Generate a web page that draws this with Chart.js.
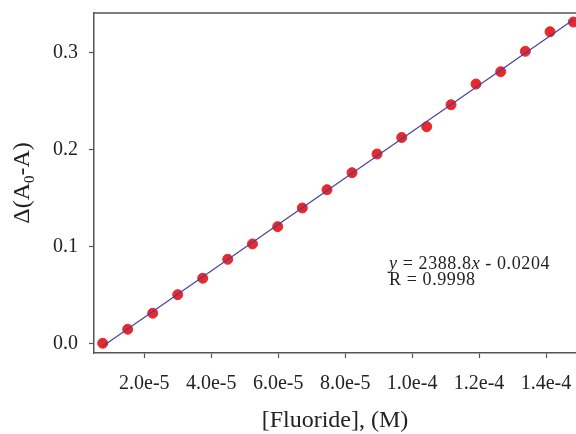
<!DOCTYPE html>
<html>
  <head>
    <meta charset="utf-8">
    <style>
      html, body { margin: 0; padding: 0; background: #fff; }
      canvas { display: block; }
    </style>
    <script src="https://cdn.jsdelivr.net/npm/chart.js@4.4.0/dist/chart.umd.min.js"></script>
  </head>
  <body>
    <canvas id="myChart" width="576" height="434"></canvas>
    <script type="text/javascript">
      // data
      var concentrations = [0.757e-5, 1.504e-5, 2.251e-5, 2.998e-5, 3.745e-5, 4.491e-5, 5.232e-5,
        5.985e-5, 6.72e-5, 7.458e-5, 8.205e-5, 8.952e-5, 9.69e-5, 1.0436e-4, 1.1162e-4,
        1.1909e-4, 1.2647e-4, 1.3382e-4, 1.412e-4, 1.4816e-4];
      var deltaAbs = [0.0007, 0.0151, 0.0316, 0.0507, 0.0676, 0.0871, 0.1029, 0.1207, 0.1399,
        0.1587, 0.1762, 0.1954, 0.2124, 0.2235, 0.2461, 0.2674, 0.2801, 0.3011, 0.3212, 0.3312];
      var xTickValues = [2e-5, 4e-5, 6e-5, 8e-5, 1e-4, 1.2e-4, 1.4e-4];
      var yTickValues = [0, 0.1, 0.2, 0.3];
      var fitSlope = 2388.8;
      var fitIntercept = -0.0204;
      var rValue = '0.9998';
      var xTitle = '[Fluoride], (M)';

      var serif = "'Liberation Serif', 'Times New Roman', serif";

      var points = concentrations.map(function (x, i) { return { x: x, y: deltaAbs[i] }; });
      var xFirst = concentrations[0], xLast = concentrations[concentrations.length - 1];
      var fitLine = [
        { x: xFirst, y: fitSlope * xFirst + fitIntercept },
        { x: xLast, y: fitSlope * xLast + fitIntercept }
      ];

      // frame top line, y title with subscript, fit equation
      var extras = {
        id: 'extras',
        afterDraw: function (chart) {
          var ctx = chart.ctx, a = chart.chartArea;
          ctx.save();
          ctx.strokeStyle = '#555';
          ctx.lineWidth = 1.5;
          ctx.beginPath();
          ctx.moveTo(a.left, a.top);
          ctx.lineTo(a.right, a.top);
          ctx.stroke();

          // y axis title: Δ(A0-A), 0 as subscript
          ctx.fillStyle = '#222';
          ctx.textBaseline = 'alphabetic';
          ctx.textAlign = 'left';
          var big = '24px ' + serif, small = '15px ' + serif;
          var parts = [['\u0394(A', big, 0], ['0', small, 5], ['-A)', big, 0]];
          var total = 0;
          parts.forEach(function (p) { ctx.font = p[1]; p.push(ctx.measureText(p[0]).width); total += p[3]; });
          ctx.translate(28.5, (a.top + a.bottom) / 2);
          ctx.rotate(-Math.PI / 2);
          var px = -total / 2;
          parts.forEach(function (p) {
            ctx.font = p[1];
            ctx.fillText(p[0], px, p[2]);
            px += p[3];
          });
          ctx.setTransform(1, 0, 0, 1, 0, 0);

          // fit equation
          ctx.letterSpacing = '0.6px';
          var reg = '18px ' + serif, ita = 'italic 18px ' + serif;
          var eq = [['y', ita], [' = ' + fitSlope.toFixed(1), reg], ['x', ita],
            [' - ' + Math.abs(fitIntercept).toFixed(4), reg]];
          var ex = 389;
          eq.forEach(function (p) {
            ctx.font = p[1];
            ctx.fillText(p[0], ex, 269);
            ex += ctx.measureText(p[0]).width;
          });
          ctx.font = reg;
          ctx.fillText('R = ' + rValue, 389, 285);
          ctx.restore();
        }
      };

      var ctx = document.getElementById('myChart').getContext('2d');
      var chart = new Chart(ctx, {
        type: 'scatter',
        data: {
          datasets: [{
            data: points,
            backgroundColor: '#e8292c',
            borderColor: '#e8292c',
            pointRadius: 5,
            pointHoverRadius: 5,
            order: 2
          }, {
            type: 'line',
            data: fitLine,
            borderColor: '#4b3f9b',
            borderWidth: 1.2,
            pointRadius: 0,
            fill: false,
            order: 1
          }]
        },
        options: {
          responsive: false,
          animation: false,
          layout: { autoPadding: false, padding: { top: 13, right: 0, left: 0, bottom: 0 } },
          plugins: { legend: { display: false }, tooltip: { enabled: false } },
          scales: {
            x: {
              type: 'linear',
              position: 'bottom',
              min: 0.497e-5,
              max: 1.4896e-4,
              afterBuildTicks: function (s) { s.ticks = xTickValues.map(function (v) { return { value: v }; }); },
              afterFit: function (s) { s.height = 81; s.paddingLeft = 0; s.paddingRight = 0; },
              ticks: {
                autoSkip: false,
                maxRotation: 0,
                padding: 14,
                color: '#222',
                font: { family: serif, size: 20 },
                callback: function (v) { return Number(v).toExponential(1); }
              },
              grid: { drawOnChartArea: false, tickLength: 5, color: '#555', tickWidth: 1.2 },
              border: { color: '#555', width: 1.5 },
              title: {
                display: true,
                text: xTitle,
                color: '#222',
                font: { family: serif, size: 24, lineHeight: 1.1 },
                padding: { top: 0, bottom: 0 }
              }
            },
            y: {
              type: 'linear',
              min: -0.0093,
              max: 0.3405,
              afterBuildTicks: function (s) { s.ticks = yTickValues.map(function (v) { return { value: v }; }); },
              afterFit: function (s) { s.width = 94; s.paddingTop = 0; s.paddingBottom = 0; },
              ticks: {
                padding: 11,
                color: '#222',
                font: { family: serif, size: 20 },
                callback: function (v) { return Number(v).toFixed(1); }
              },
              grid: { drawOnChartArea: false, tickLength: 5, color: '#555', tickWidth: 1.2 },
              border: { color: '#555', width: 1.5 }
            }
          }
        },
        plugins: [extras]
      });
    </script>
  </body>
</html>
